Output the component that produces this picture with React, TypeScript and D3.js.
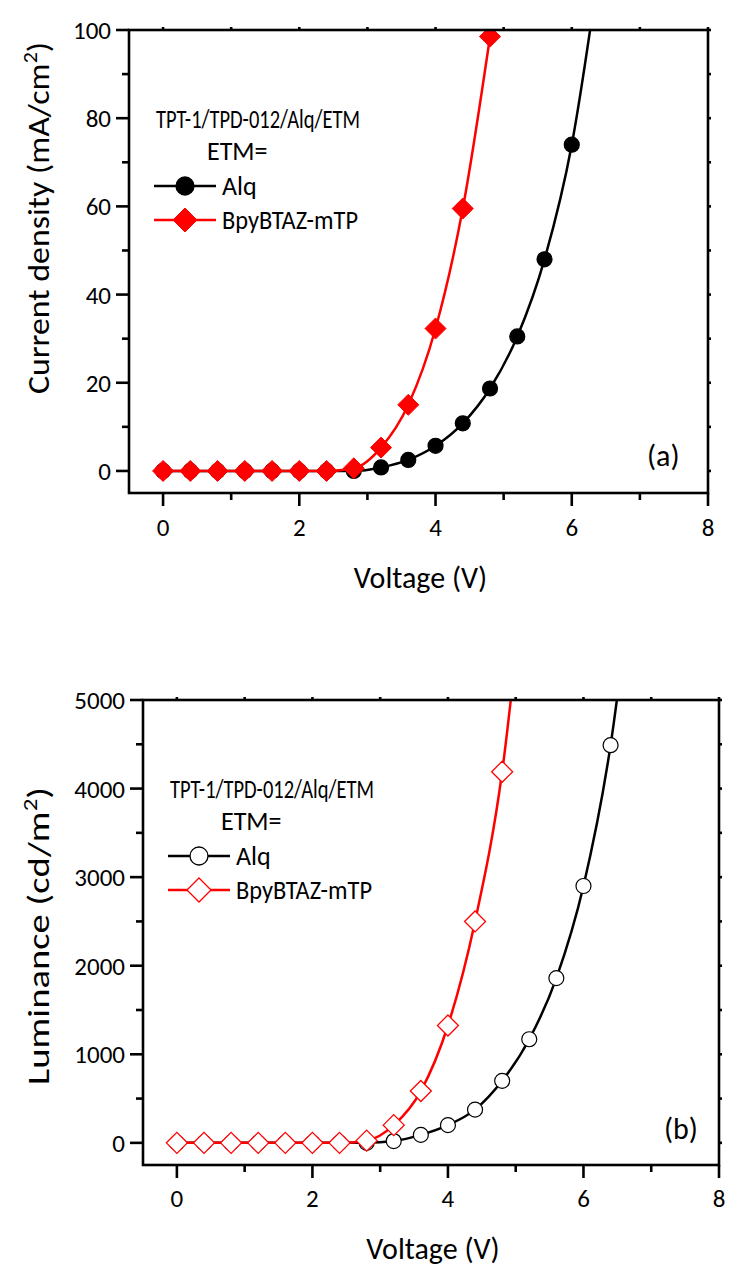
import React from "react";
import * as d3 from "d3";

// ---------- DATA ----------
// Panel (a): current density (mA/cm2) vs voltage (V)
const voltsAlqA = [0, 0.4, 0.8, 1.2, 1.6, 2.0, 2.4, 2.8, 3.2, 3.6, 4.0, 4.4, 4.8, 5.2, 5.6, 6.0, 6.4];
const currentAlq = [0, 0, 0, 0, 0, 0, 0, 0, 0.8, 2.5, 5.7, 10.8, 18.7, 30.5, 48, 74, 114];
const voltsBpyA = [0, 0.4, 0.8, 1.2, 1.6, 2.0, 2.4, 2.8, 3.2, 3.6, 4.0, 4.4, 4.8];
const currentBpy = [0, 0, 0, 0, 0, 0, 0, 0.6, 5.3, 15.0, 32.3, 59.5, 98.5];

// Panel (b): luminance (cd/m2) vs voltage (V)
const voltsAlqB = [0, 0.4, 0.8, 1.2, 1.6, 2.0, 2.4, 2.8, 3.2, 3.6, 4.0, 4.4, 4.8, 5.2, 5.6, 6.0, 6.4, 6.8];
const lumAlq = [0, 0, 0, 0, 0, 0, 0, 0, 20, 90, 200, 375, 700, 1170, 1860, 2900, 4490, 6950];
const voltsBpyB = [0, 0.4, 0.8, 1.2, 1.6, 2.0, 2.4, 2.8, 3.2, 3.6, 4.0, 4.4, 4.8, 5.2];
const lumBpy = [0, 0, 0, 0, 0, 0, 0, 25, 200, 585, 1325, 2500, 4190, 7030];

// Axes
const xMajorTicks = [0, 2, 4, 6, 8];
const xMinorTicks = [1, 3, 5, 7];
const xTickLabels = ["0", "2", "4", "6", "8"];
const yMajorTicksA = [0, 20, 40, 60, 80, 100];
const yMinorTicksA = [10, 30, 50, 70, 90];
const yTickLabelsA = ["0", "20", "40", "60", "80", "100"];
const yMajorTicksB = [0, 1000, 2000, 3000, 4000, 5000];
const yMinorTicksB = [500, 1500, 2500, 3500, 4500];
const yTickLabelsB = ["0", "1000", "2000", "3000", "4000", "5000"];

const seriesNames = ["Alq", "BpyBTAZ-mTP"];
const legendTitle = "TPT-1/TPD-012/Alq/ETM";
const legendSub = "ETM=";

const FONT = "Carlito, Lato, sans-serif";
const RED = "#ff0000";

type PanelProps = {
  id: string;
  left: number; right: number; top: number; bottom: number;
  xDomain: [number, number];
  yDomain: [number, number];
  yMajor: number[]; yMinor: number[]; yLabels: string[];
  blackX: number[]; blackY: number[];
  redX: number[]; redY: number[];
  filled: boolean;
  yTitle: string; yTitleCenter: number; yTitleLen: number;
  tag: string; tagX: number; tagY: number;
  legX: number; legY: number;
  xLabelY: number; xTitleY: number;
};

function Panel(p: PanelProps) {
  const x = d3.scaleLinear().domain(p.xDomain).range([p.left, p.right]);
  const y = d3.scaleLinear().domain(p.yDomain).range([p.bottom, p.top]);
  const line = (xs: number[], ys: number[]) =>
    d3.line<number>().x((_, i) => x(xs[i])).y((d) => y(d)).curve(d3.curveMonotoneX)(ys) || "";
  const major = 13, minor = 7, mirror = 3;
  const sw = 2.6;
  const r = 7.5, dh = 10.5;
  const diamond = (cx: number, cy: number, h: number) =>
    `M${cx},${cy - h}L${cx + h},${cy}L${cx},${cy + h}L${cx - h},${cy}Z`;
  const circFill = p.filled ? "#000" : "#fff";
  const diaFill = p.filled ? RED : "#fff";
  const diaStroke = RED;
  const diaSW = p.filled ? 1 : 1.3;
  const lg = p.legX, lgy = p.legY;
  return (
    <g fontFamily={FONT}>
      <defs>
        <clipPath id={`clip-${p.id}`}>
          <rect x={p.left} y={p.top} width={p.right - p.left} height={p.bottom - p.top} />
        </clipPath>
      </defs>
      <g clipPath={`url(#clip-${p.id})`}>
        <path d={line(p.blackX, p.blackY)} fill="none" stroke="#000" strokeWidth={2.5} />
        {p.blackY.map((v, i) => (
          <circle key={`c${i}`} cx={x(p.blackX[i])} cy={y(v)} r={r} fill={circFill} stroke="#000" strokeWidth={1.2} />
        ))}
        <path d={line(p.redX, p.redY)} fill="none" stroke={RED} strokeWidth={2.5} />
        {p.redY.map((v, i) => (
          <path key={`d${i}`} d={diamond(x(p.redX[i]), y(v), dh)} fill={diaFill} stroke={diaStroke} strokeWidth={diaSW} />
        ))}
      </g>
      {/* frame */}
      <rect x={p.left} y={p.top} width={p.right - p.left} height={p.bottom - p.top} fill="none" stroke="#000" strokeWidth={sw} />
      {/* x ticks */}
      {xMajorTicks.map((t, i) => (
        <g key={`xm${t}`}>
          <line x1={x(t)} x2={x(t)} y1={p.bottom} y2={p.bottom + major} stroke="#000" strokeWidth={sw} />
          <line x1={x(t)} x2={x(t)} y1={p.top} y2={p.top - mirror} stroke="#000" strokeWidth={sw} />
          <text x={x(t)} y={p.xLabelY} textAnchor="middle" fontSize={25}>{xTickLabels[i]}</text>
        </g>
      ))}
      {xMinorTicks.map((t) => (
        <g key={`xn${t}`}>
          <line x1={x(t)} x2={x(t)} y1={p.bottom} y2={p.bottom + minor} stroke="#000" strokeWidth={sw} />
          <line x1={x(t)} x2={x(t)} y1={p.top} y2={p.top - mirror} stroke="#000" strokeWidth={sw} />
        </g>
      ))}
      {/* y ticks */}
      {p.yMajor.map((t, i) => (
        <g key={`ym${t}`}>
          <line x1={p.left - major} x2={p.left} y1={y(t)} y2={y(t)} stroke="#000" strokeWidth={sw} />
          <line x1={p.right} x2={p.right + mirror} y1={y(t)} y2={y(t)} stroke="#000" strokeWidth={sw} />
          <text x={p.left - major - 5} y={y(t) + 9} textAnchor="end" fontSize={25}>{p.yLabels[i]}</text>
        </g>
      ))}
      {p.yMinor.map((t) => (
        <g key={`yn${t}`}>
          <line x1={p.left - minor} x2={p.left} y1={y(t)} y2={y(t)} stroke="#000" strokeWidth={sw} />
          <line x1={p.right} x2={p.right + mirror} y1={y(t)} y2={y(t)} stroke="#000" strokeWidth={sw} />
        </g>
      ))}
      {/* axis titles */}
      <text x={(p.left + p.right) / 2 + 2} y={p.xTitleY} textAnchor="middle" fontSize={30}>Voltage (V)</text>
      <text transform={`translate(49,${p.yTitleCenter}) rotate(-90)`} x={-p.yTitleLen / 2} fontSize={31}
        textLength={p.yTitleLen} lengthAdjust="spacingAndGlyphs">
        {p.yTitle}
        <tspan dy={-12} fontSize={20}>2</tspan>
        <tspan dy={12}>)</tspan>
      </text>
      {/* tag */}
      <text x={p.tagX} y={p.tagY} fontSize={30}>{p.tag}</text>
      {/* legend */}
      <text x={lg} y={lgy} fontSize={26} textLength={204} lengthAdjust="spacingAndGlyphs">{legendTitle}</text>
      <text x={lg + 51} y={lgy + 32} fontSize={26}>{legendSub}</text>
      <line x1={lg - 2} x2={lg + 60} y1={lgy + 58} y2={lgy + 58} stroke="#000" strokeWidth={2.5} />
      <circle cx={lg + 29} cy={lgy + 58} r={9} fill={circFill} stroke="#000" strokeWidth={1.3} />
      <text x={lg + 66} y={lgy + 67} fontSize={26}>{seriesNames[0]}</text>
      <line x1={lg - 2} x2={lg + 60} y1={lgy + 92} y2={lgy + 92} stroke={RED} strokeWidth={2.5} />
      <path d={diamond(lg + 29, lgy + 92, 12)} fill={diaFill} stroke={RED} strokeWidth={diaSW} />
      <text x={lg + 66} y={lgy + 101} fontSize={26} textLength={136} lengthAdjust="spacingAndGlyphs">{seriesNames[1]}</text>
    </g>
  );
}

export default function App() {
  return (
    <svg width={731} height={1270} style={{ position: "absolute", left: 0, top: 0, background: "#fff" }}>
      <rect x={0} y={0} width={731} height={1270} fill="#fff" />
      <Panel
        id="a" left={129} right={708} top={30} bottom={493}
        xDomain={[-0.5, 8]} yDomain={[-5, 100]}
        yMajor={yMajorTicksA} yMinor={yMinorTicksA} yLabels={yTickLabelsA}
        blackX={voltsAlqA} blackY={currentAlq} redX={voltsBpyA} redY={currentBpy}
        filled={true}
        yTitle="Current density (mA/cm" yTitleCenter={218} yTitleLen={352}
        tag="(a)" tagX={647} tagY={466}
        legX={156} legY={128}
        xLabelY={536} xTitleY={588}
      />
      <Panel
        id="b" left={143} right={719} top={700} bottom={1165}
        xDomain={[-0.5, 8]} yDomain={[-250, 5000]}
        yMajor={yMajorTicksB} yMinor={yMinorTicksB} yLabels={yTickLabelsB}
        blackX={voltsAlqB} blackY={lumAlq} redX={voltsBpyB} redY={lumBpy}
        filled={false}
        yTitle="Luminance (cd/m" yTitleCenter={936} yTitleLen={298}
        tag="(b)" tagX={664} tagY={1139}
        legX={170} legY={798}
        xLabelY={1207} xTitleY={1259}
      />
    </svg>
  );
}
